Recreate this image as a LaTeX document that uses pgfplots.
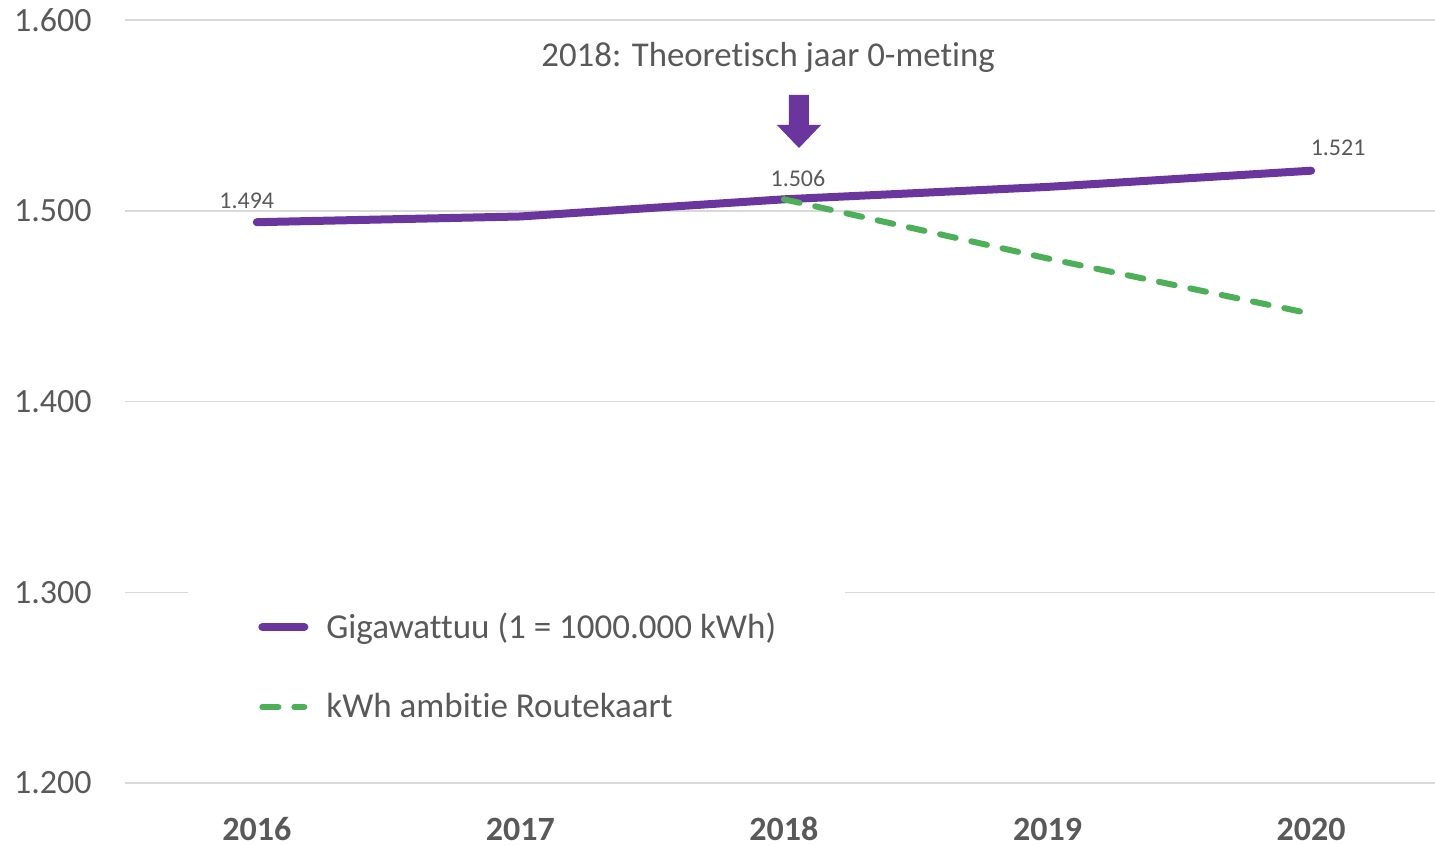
\documentclass[border=0pt]{standalone}
\usepackage{fontspec}
\setmainfont{Carlito}[Ligatures=NoCommon]
\usepackage{pgfplots}
\pgfplotsset{compat=1.18}
\definecolor{lpurple}{HTML}{6A359C}
\definecolor{lgreen}{HTML}{4DAF57}
\definecolor{tgray}{HTML}{595959}
\definecolor{ggray}{HTML}{D9D9D9}
\begin{document}
\begin{tikzpicture}
\path[use as bounding box] (-62.5pt,-31.5pt) rectangle (655pt,391.5pt);
\begin{axis}[
  scale only axis,
  width=655pt, height=381.5pt,
  xmin=-0.5, xmax=4.47, ymin=1200, ymax=1600,
  axis line style={draw=none},
  major tick length=0pt,
  ymajorgrids, grid style={ggray, line width=0.75pt},
  xtick={0,1,2,3,4},
  xticklabels={2016,2017,2018,2019,2020},
  ytick={1200,1300,1400,1500,1600},
  yticklabels={1.200,1.300,1.400,1.500,1.600},
  xticklabel style={font=\fontsize{17}{20}\selectfont\bfseries, text=tgray, anchor=base, inner sep=0pt, yshift=-28.5pt},
  yticklabel style={font=\fontsize{17}{20}\selectfont, text=tgray, anchor=east, inner sep=0pt, xshift=-16.5pt},
  legend style={at={(axis description cs:0.1015,0.229)}, anchor=north west, draw=none, fill=none,
     font=\fontsize{17.5}{20}\selectfont, text=tgray, row sep=22pt, inner sep=0pt,
     nodes={inner xsep=0pt}},
  legend cell align=left,
  legend image code/.code={\draw[#1, line cap=round] (2pt,0pt) -- (23pt,0pt); \path[draw=none] (0pt,0pt) -- (34pt,0pt);},
  clip=false,
]
\fill[white] (axis cs:-0.262,1220) rectangle (axis cs:2.232,1312);
\addplot[lpurple, line width=4pt, line cap=round, line join=round] coordinates {
  (0,1494) (1,1497) (2,1506) (3,1512.5) (4,1521)};
\addlegendentry{Gigawattuu (1 = 1000.000 kWh)}
\addplot[lgreen, line width=3pt, line cap=round, dash pattern=on 8pt off 8pt] coordinates {
  (2,1506) (3,1475) (4,1446)};
\addlegendentry{kWh ambitie Routekaart}
\node[font=\fontsize{12}{14}\selectfont, text=tgray, xshift=-5pt, yshift=10.5pt] at (axis cs:0,1494) {1.494};
\node[font=\fontsize{12}{14}\selectfont, text=tgray, xshift=7pt, yshift=10.5pt] at (axis cs:2,1506) {1.506};
\node[font=\fontsize{12}{14}\selectfont, text=tgray, xshift=13.5pt, yshift=11.5pt] at (axis cs:4,1521) {1.521};
\node[font=\fontsize{17.4}{20}\selectfont, text=tgray] at (axis cs:1.94,1580.6) {2018: Theoretisch jaar 0-meting};
\fill[lpurple] (axis cs:2.019,1560.7) -- (axis cs:2.095,1560.7) -- (axis cs:2.095,1545) -- (axis cs:2.141,1545)
  -- (axis cs:2.057,1532.9) -- (axis cs:1.973,1545) -- (axis cs:2.019,1545) -- cycle;
\end{axis}
\end{tikzpicture}
\end{document}
